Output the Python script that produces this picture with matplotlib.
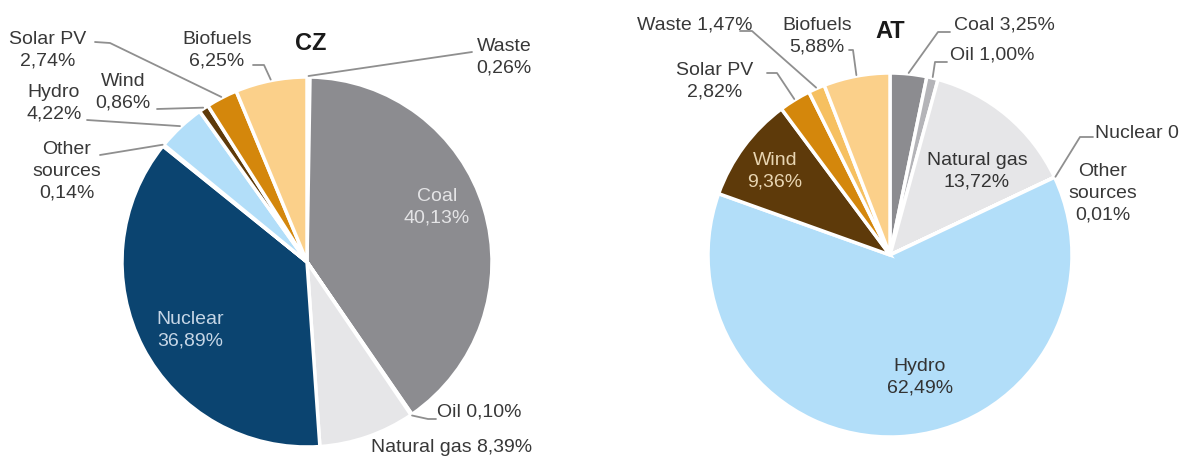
import numpy as np
import matplotlib.pyplot as plt

plt.rcParams['font.family'] = ['Liberation Sans', 'DejaVu Sans']

W, H = 1189, 459

# electricity mix shares (%), listed clockwise from 12 o'clock
cz_names = ["Waste", "Coal", "Oil", "Natural gas", "Nuclear", "Other sources",
            "Hydro", "Wind", "Solar PV", "Biofuels"]
cz_values = [0.26, 40.13, 0.10, 8.39, 36.89, 0.14, 4.22, 0.86, 2.74, 6.25]

at_names = ["Coal", "Oil", "Natural gas", "Nuclear", "Other sources",
            "Hydro", "Wind", "Solar PV", "Waste", "Biofuels"]
at_values = [3.25, 1.00, 13.72, 0, 0.01, 62.49, 9.36, 2.82, 1.47, 5.88]

colors = {
    "Coal": "#8c8c90",
    "Oil": "#b4b4b8",
    "Natural gas": "#e6e6e8",
    "Nuclear": "#0b4470",
    "Other sources": "#cfcfcf",
    "Hydro": "#b2def9",
    "Wind": "#5e3a0a",
    "Solar PV": "#d4870c",
    "Waste": "#f6c060",
    "Biofuels": "#fbd08a",
}

TXT = "#383838"
LINE = "#8f8f8f"
FS = 14
LSP = 1.35


def pct(v):
    return "0" if v == 0 else f"{v:.2f}%".replace(".", ",")


def edge_point(values, i, cx, cy, r):
    # point on the rim at the middle of slice i (y measured from the top)
    vals = np.asarray(values, dtype=float)
    ends = np.cumsum(vals) / vals.sum()
    mid = ends[i] - vals[i] / vals.sum() / 2
    ang = np.deg2rad(90 - 360 * mid)
    return cx + r * np.cos(ang), cy - r * np.sin(ang)


fig = plt.figure(figsize=(W / 100, H / 100), dpi=100)
ax = fig.add_axes([0, 0, 1, 1])


def draw_pie(names, values, cx, cy, r, title, title_xy, outside, inside):
    ax.pie(values, colors=[colors[n] for n in names], startangle=90,
           counterclock=False, radius=r, center=(cx, H - cy),
           wedgeprops=dict(edgecolor="white", linewidth=2.5))
    ax.text(title_xy[0], H - title_xy[1], title, fontsize=17, fontweight="bold",
            color="#1a1a1a", ha="center", va="center")
    for name, (tx, ty, ha, sep, label, elbow) in outside.items():
        i = names.index(name)
        ax.text(tx, H - ty, label + sep + pct(values[i]), fontsize=FS, color=TXT,
                ha=ha, va="center", multialignment="center", linespacing=LSP)
        if elbow:
            ex, ey = edge_point(values, i, cx, cy, r + 1)
            xs = [p[0] for p in elbow] + [ex]
            ys = [H - p[1] for p in elbow] + [H - ey]
            ax.plot(xs, ys, color=LINE, lw=1.3, solid_capstyle="round")
    for name, (tx, ty, col) in inside.items():
        i = names.index(name)
        ax.text(tx, H - ty, name + "\n" + pct(values[i]), fontsize=FS, color=col,
                ha="center", va="center", linespacing=LSP)


cz_outside = {
    "Solar PV": (48, 50, "center", "\n", "Solar PV", [(95, 42), (110, 43)]),
    "Biofuels": (217, 50, "center", "\n", "Biofuels", [(253, 65), (264, 65)]),
    "Waste": (504, 57, "center", "\n", "Waste", [(472, 52)]),
    "Wind": (123, 92, "center", "\n", "Wind", [(157, 109)]),
    "Hydro": (54, 103, "center", "\n", "Hydro", [(87, 120)]),
    "Other sources": (67, 171, "center", "\n", "Other\nsources", [(100, 155)]),
    "Oil": (437, 412, "left", " ", "Oil", [(436, 419), (428, 419)]),
    "Natural gas": (452, 447, "center", " ", "Natural gas", None),
}
cz_inside = {
    "Coal": (437, 207, "#e4e4e6"),
    "Nuclear": (190, 330, "#c6d6e6"),
}

at_outside = {
    "Waste": (695, 25, "center", " ", "Waste", [(740, 31), (752, 31)]),
    "Biofuels": (817, 36, "center", "\n", "Biofuels", [(849, 50), (853, 50)]),
    "Solar PV": (715, 81, "center", "\n", "Solar PV", [(767, 73), (777, 73)]),
    "Coal": (954, 25, "left", " ", "Coal", [(950, 32), (938, 32)]),
    "Oil": (950, 55, "left", " ", "Oil", [(947, 62), (935, 62)]),
    "Nuclear": (1095, 133, "left", " ", "Nuclear", [(1093, 137), (1080, 137)]),
    "Other sources": (1103, 193, "center", "\n", "Other\nsources", None),
}
at_inside = {
    "Natural gas": (977, 171, "#333333"),
    "Wind": (775, 171, "#e8d5b2"),
    "Hydro": (920, 377, "#333333"),
}

draw_pie(cz_names, cz_values, 307, 262, 185, "CZ", (311, 44), cz_outside, cz_inside)
draw_pie(at_names, at_values, 890, 255, 182, "AT", (890, 32), at_outside, at_inside)

ax.set_xlim(0, W)
ax.set_ylim(0, H)
ax.set_aspect("auto")
ax.axis("off")

fig.savefig("out.png", dpi=100, facecolor="white")
